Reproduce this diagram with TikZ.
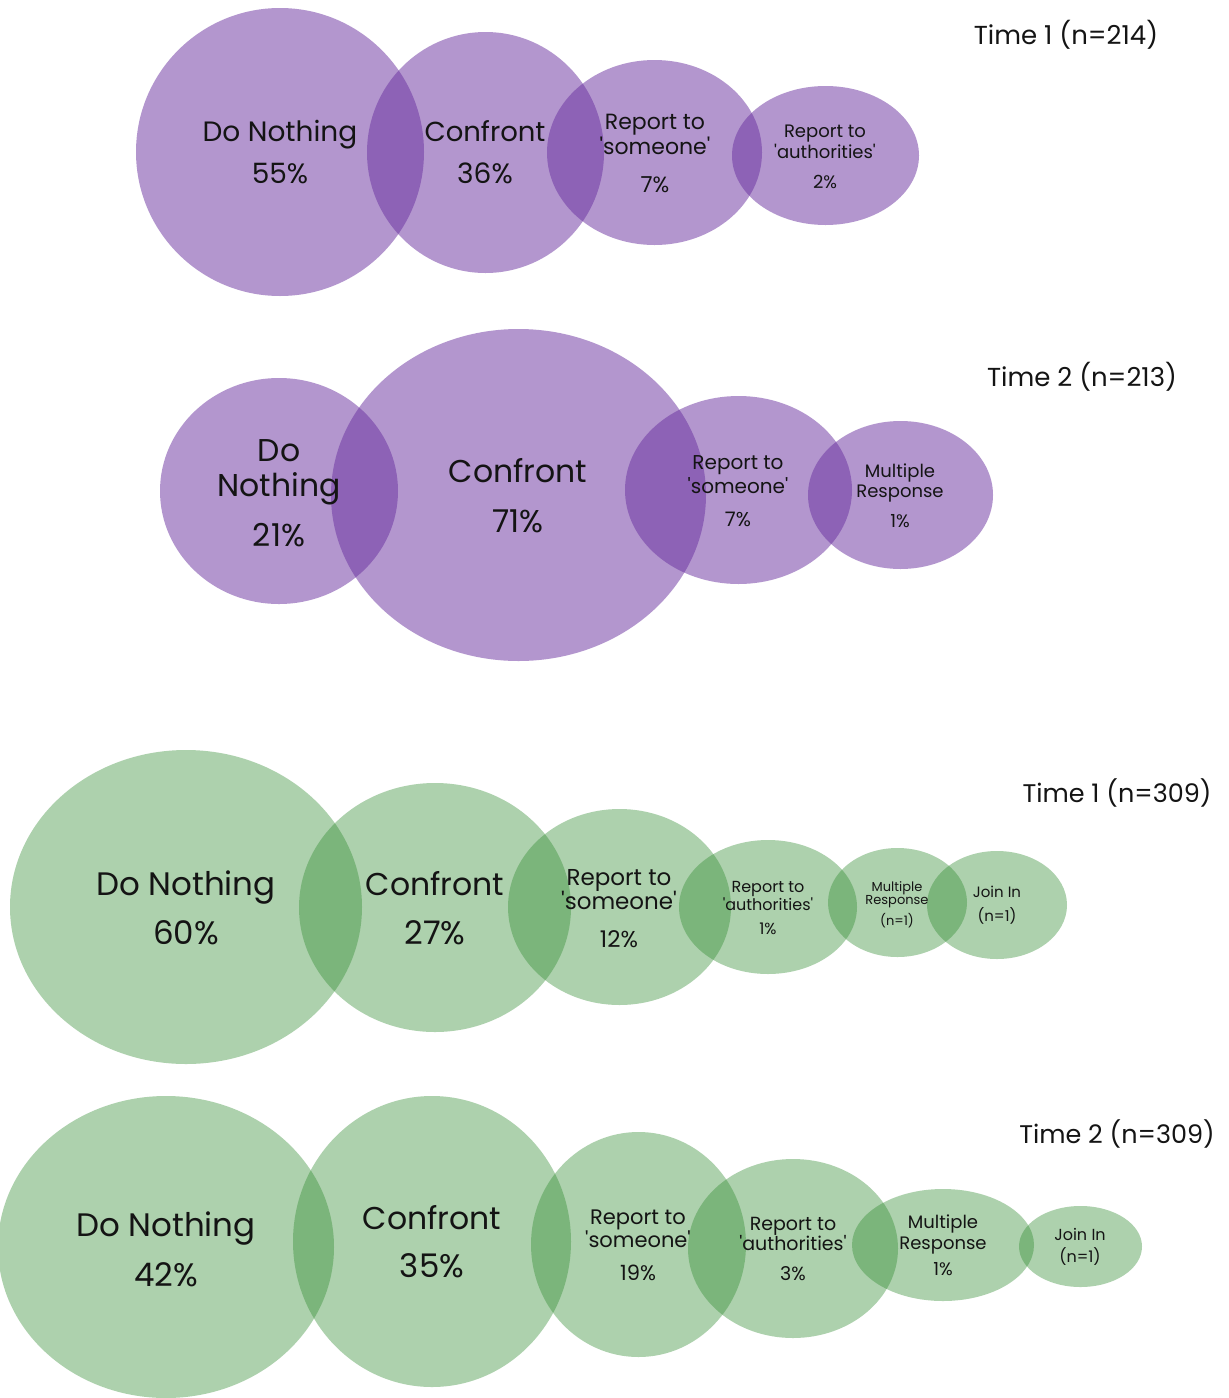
\documentclass[tikz,border=0pt]{standalone}
\usepackage{fontspec}
\setmainfont{Poppins}[Ligatures=TeXOff]
\usetikzlibrary{shapes.geometric}
\definecolor{violetbase}{RGB}{105,47,159}
\definecolor{greenbase}{RGB}{50,140,50}
\definecolor{ink}{RGB}{20,20,20}
\newcommand\fz[1]{\fontsize{#1}{#1}\selectfont}
\tikzset{
  bubble/.style={ellipse, inner sep=0pt, draw=none},
  vbub/.style={bubble, fill=violetbase, fill opacity=0.5},
  gbub/.style={bubble, fill=greenbase, fill opacity=0.4},
  lab/.style={anchor=base, inner sep=0pt, text=ink},
}
\newcommand\bub[6]{% style, name, cx, cy, rx, ry
  \node[#1, minimum width=#5*2pt, minimum height=#6*2pt] (#2) at (#3,#4) {};}
\begin{document}
\begin{tikzpicture}[x=1pt,y=-1pt]
\useasboundingbox (0,0) rectangle (1229,1398);
\clip (0,0) rectangle (1229,1398);
\fill[white] (0,0) rectangle (1229,1398);

% ---- Row 1 (violet, Time 1)
\bub{vbub}{an}{280}{152}{144}{144}
\bub{vbub}{ac}{485.5}{152.5}{118.5}{120.5}
\bub{vbub}{as}{654.5}{152.5}{107.5}{92.5}
\bub{vbub}{aa}{825.5}{155.5}{93.5}{69.5}
\node[lab, font=\fz{28}] (antx) at (280,141) {Do Nothing};
\node[lab, font=\fz{28}] (anpc) at (280,183) {55\%};
\node[lab, font=\fz{27.5}] (actx) at (485,141) {Confront};
\node[lab, font=\fz{28}] (acpc) at (485,183) {36\%};
\node[lab, font=\fz{22}] (ast1) at (655,129) {Report to};
\node[lab, font=\fz{22}] (ast2) at (655,154) {'someone'};
\node[lab, font=\fz{22}] (aspc) at (655,192) {7\%};
\node[lab, font=\fz{18}] (aat1) at (825,137) {Report to};
\node[lab, font=\fz{18}] (aat2) at (825,158) {'authorities'};
\node[lab, font=\fz{18}] (aapc) at (825,188) {2\%};
\node[lab, font=\fz{26}] (atime) at (1066,44) {Time 1 (n=214)};

% ---- Row 2 (violet, Time 2)
\bub{vbub}{bn}{279}{491}{119}{113}
\bub{vbub}{bc}{518.5}{495}{187.5}{166}
\bub{vbub}{bs}{738.5}{490}{113.5}{94}
\bub{vbub}{bm}{900.5}{495}{92.5}{74}
\node[lab, font=\fz{31.5}] (bnt1) at (279,461) {Do};
\node[lab, font=\fz{31.5}] (bnt2) at (279,496) {Nothing};
\node[lab, font=\fz{31.5}] (bnpc) at (279,546) {21\%};
\node[lab, font=\fz{31.5}] (bctx) at (518,482) {Confront};
\node[lab, font=\fz{31.5}] (bcpc) at (518,532) {71\%};
\node[lab, font=\fz{20}] (bst1) at (738,469) {Report to};
\node[lab, font=\fz{20}] (bst2) at (738,493) {'someone'};
\node[lab, font=\fz{20}] (bspc) at (738,526) {7\%};
\node[lab, font=\fz{18}] (bmt1) at (900,477) {Multiple};
\node[lab, font=\fz{18}] (bmt2) at (900,497) {Response};
\node[lab, font=\fz{18}] (bmpc) at (900,527) {1\%};
\node[lab, font=\fz{26}] (btime) at (1082,386) {Time 2 (n=213)};

% ---- Row 3 (green, Time 1)
\bub{gbub}{cn}{186}{907}{176}{157}
\bub{gbub}{cc}{435}{907.5}{136}{124.5}
\bub{gbub}{cs}{619.5}{907}{111.5}{98}
\bub{gbub}{ca}{768}{907}{89}{67}
\bub{gbub}{cm}{897.5}{902.5}{69.5}{54.5}
\bub{gbub}{cj}{997}{905}{70}{54}
\node[lab, font=\fz{32.5}] (cntx) at (186,895) {Do Nothing};
\node[lab, font=\fz{32.5}] (cnpc) at (186,944) {60\%};
\node[lab, font=\fz{31.5}] (cctx) at (435,895) {Confront};
\node[lab, font=\fz{32.5}] (ccpc) at (435,944) {27\%};
\node[lab, font=\fz{23}] (cst1) at (619,885) {Report to};
\node[lab, font=\fz{23}] (cst2) at (619,909) {'someone'};
\node[lab, font=\fz{23}] (cspc) at (619,947) {12\%};
\node[lab, font=\fz{16}] (cat1) at (768,892) {Report to};
\node[lab, font=\fz{16}] (cat2) at (768,910) {'authorities'};
\node[lab, font=\fz{16}] (capc) at (768,934) {1\%};
\node[lab, font=\fz{13}] (cmt1) at (897,891) {Multiple};
\node[lab, font=\fz{13}] (cmt2) at (897,904) {Response};
\node[lab, font=\fz{13}] (cmpc) at (897,925) {(n=1)};
\node[lab, font=\fz{15}] (cjt1) at (997,897) {Join In};
\node[lab, font=\fz{15}] (cjpc) at (997,921) {(n=1)};
\node[lab, font=\fz{25.5}] (ctime) at (1117,802) {Time 1 (n=309)};

% ---- Row 4 (green, Time 2)
\bub{gbub}{dn}{166}{1247}{168}{151}
\bub{gbub}{dc}{432}{1241.5}{139}{145.5}
\bub{gbub}{ds}{638.5}{1244.5}{107.5}{112.5}
\bub{gbub}{da}{793}{1248.5}{105}{89.5}
\bub{gbub}{dm}{943}{1245}{91}{56}
\bub{gbub}{dj}{1080.5}{1246.5}{61.5}{40.5}
\node[lab, font=\fz{32.5}] (dntx) at (166,1236) {Do Nothing};
\node[lab, font=\fz{32.5}] (dnpc) at (166,1286) {42\%};
\node[lab, font=\fz{31.5}] (dctx) at (432,1229) {Confront};
\node[lab, font=\fz{32.5}] (dcpc) at (432,1277) {35\%};
\node[lab, font=\fz{21}] (dst1) at (638,1224) {Report to};
\node[lab, font=\fz{21}] (dst2) at (638,1247) {'someone'};
\node[lab, font=\fz{21}] (dspc) at (638,1280) {19\%};
\node[lab, font=\fz{19}] (dat1) at (793,1230) {Report to};
\node[lab, font=\fz{19}] (dat2) at (793,1250) {'authorities'};
\node[lab, font=\fz{19}] (dapc) at (793,1280) {3\%};
\node[lab, font=\fz{18}] (dmt1) at (943,1228) {Multiple};
\node[lab, font=\fz{18}] (dmt2) at (943,1249) {Response};
\node[lab, font=\fz{18}] (dmpc) at (943,1275) {1\%};
\node[lab, font=\fz{16}] (djt1) at (1080,1240) {Join In};
\node[lab, font=\fz{16}] (djpc) at (1080,1262) {(n=1)};
\node[lab, font=\fz{25.5}] (dtime) at (1117,1143) {Time 2 (n=309)};
\end{tikzpicture}
\end{document}
